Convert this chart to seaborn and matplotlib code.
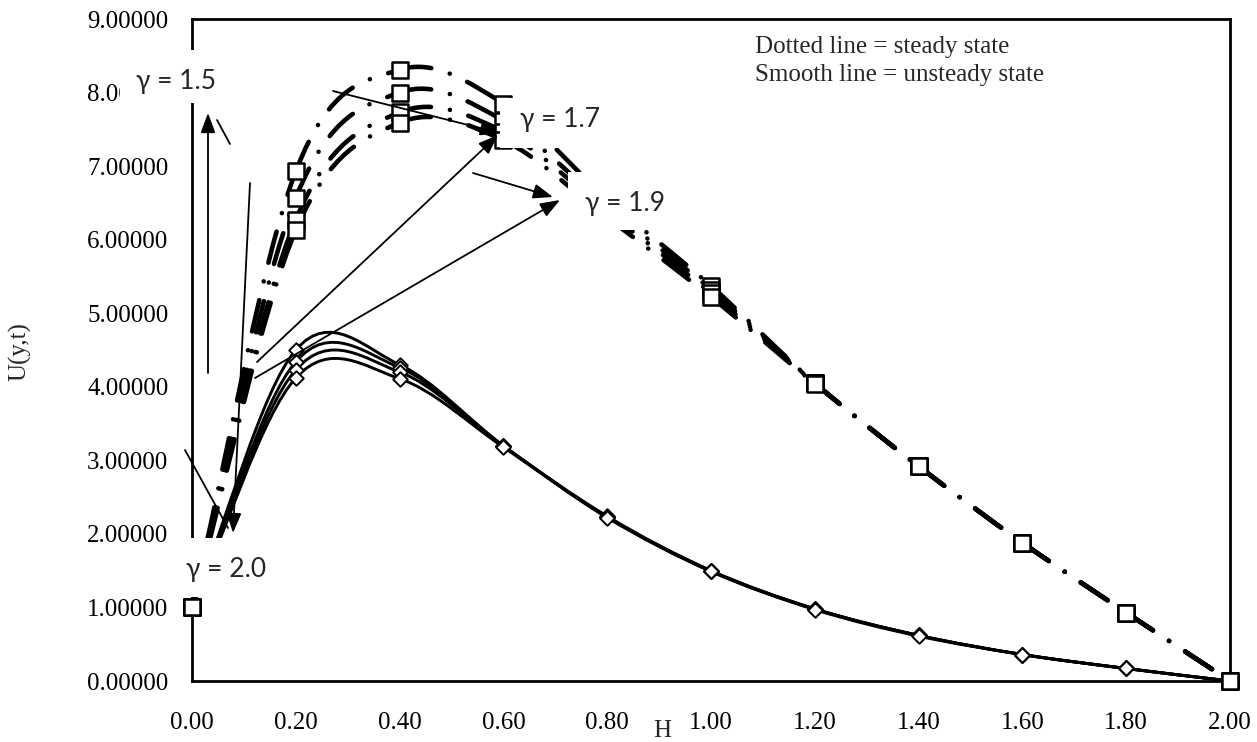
import numpy as np
import pandas as pd
import matplotlib
matplotlib.use("Agg")
import matplotlib.pyplot as plt
import seaborn as sns
from matplotlib.path import Path
from matplotlib.patches import PathPatch, Rectangle

# ---------------- data ----------------
H = [0.0, 0.2, 0.4, 0.6, 0.8, 1.0, 1.2, 1.4, 1.6, 1.8, 2.0]

steady_a = [1.00, 6.93, 8.31, 7.85, 6.55, 5.37, 4.05, 2.92, 1.88, 0.93, 0.00]
steady_b = [1.00, 6.57, 8.00, 7.62, 6.45, 5.32, 4.05, 2.92, 1.88, 0.93, 0.00]
steady_c = [1.00, 6.27, 7.73, 7.47, 6.38, 5.27, 4.05, 2.92, 1.88, 0.93, 0.00]
steady_d = [1.00, 6.13, 7.59, 7.35, 6.30, 5.22, 4.04, 2.92, 1.88, 0.93, 0.00]

unsteady_a = [1.00, 4.50, 4.30, 3.20, 2.24, 1.50, 0.98, 0.62, 0.36, 0.17, 0.00]
unsteady_b = [1.00, 4.34, 4.26, 3.19, 2.23, 1.50, 0.98, 0.62, 0.36, 0.17, 0.00]
unsteady_c = [1.00, 4.23, 4.20, 3.19, 2.23, 1.49, 0.98, 0.62, 0.36, 0.17, 0.00]
unsteady_d = [1.00, 4.12, 4.11, 3.18, 2.22, 1.49, 0.97, 0.61, 0.36, 0.17, 0.00]

steady = {"a": steady_a, "b": steady_b, "c": steady_c, "d": steady_d}
unsteady = {"a": unsteady_a, "b": unsteady_b, "c": unsteady_c, "d": unsteady_d}

x_ticks = [0.0, 0.2, 0.4, 0.6, 0.8, 1.0, 1.2, 1.4, 1.6, 1.8, 2.0]
y_ticks = [0, 1, 2, 3, 4, 5, 6, 7, 8, 9]

gamma_labels = ["γ = 1.5", "γ = 1.7", "γ = 1.9", "γ = 2.0"]
note_lines = ["Dotted line = steady state", "Smooth line = unsteady state"]

# ---------------- style ----------------
sns.set_theme(style="white")
plt.rcParams["font.family"] = ["Liberation Serif", "DejaVu Serif"]

W, Hh = 1257, 742
fig = plt.figure(figsize=(W / 100, Hh / 100), dpi=100)
L, R, T, B = 192, 1230, 19, 681
ax = fig.add_axes([L / W, (Hh - B) / Hh, (R - L) / W, (B - T) / Hh])
ax.set_facecolor("white")


def px2ax(px, py):
    return (px - L) / (R - L), (B - py) / (B - T)


def px2data(px, py):
    return (px - L) / (R - L) * 2.0, (B - py) / (B - T) * 9.0


def bezier_segments(xs, ys):
    """Excel-style smoothed line: one cubic Bezier per pair of points."""
    P = np.column_stack([xs, ys]).astype(float)
    ext = np.vstack([2 * P[0] - P[1], P, 2 * P[-1] - P[-2]])
    segs = []
    for i in range(len(P) - 1):
        pp, p0, p1, pn = ext[i], ext[i + 1], ext[i + 2], ext[i + 3]
        c1 = p0 + (p1 - pp) / 6.0
        c2 = p1 - (pn - p0) / 6.0
        segs.append(([p0, c1, c2, p1],
                     [Path.MOVETO, Path.CURVE4, Path.CURVE4, Path.CURVE4]))
    return segs


def smooth_path(xs, ys):
    verts, codes = [], []
    for k, (v, c) in enumerate(bezier_segments(xs, ys)):
        if k == 0:
            verts += v
            codes += c
        else:
            verts += v[1:]
            codes += c[1:]
    return Path(verts, codes)


# smooth lines (unsteady)
for key, vals in unsteady.items():
    ax.add_patch(PathPatch(smooth_path(H, vals), fill=False, edgecolor="black",
                           lw=2.1, zorder=3))

# dash-dot lines (steady) - pattern restarts on each segment like Excel
for key, vals in steady.items():
    for v, c in bezier_segments(H, vals):
        patch = PathPatch(Path(v, c), fill=False, edgecolor="black", lw=3.3,
                          linestyle=(0, (7, 4.2, 0.01, 4.2)), zorder=3)
        patch.set_capstyle("round")
        ax.add_patch(patch)

# markers through seaborn
df_s = pd.DataFrame([(h, v, k) for k, vals in steady.items() for h, v in zip(H, vals)],
                    columns=["H", "U", "series"])
df_u = pd.DataFrame([(h, v, k) for k, vals in unsteady.items() for h, v in zip(H, vals)],
                    columns=["H", "U", "series"])
sns.scatterplot(data=df_u, x="H", y="U", marker="D", s=55, color="white",
                edgecolor="black", linewidth=1.4, zorder=5, ax=ax, legend=False)
sns.scatterplot(data=df_s, x="H", y="U", marker="s", s=140, color="white",
                edgecolor="black", linewidth=1.8, zorder=6, ax=ax, legend=False)
for coll in ax.collections:
    coll.set_clip_on(False)

# axes
ax.set_xlim(0, 2)
ax.set_ylim(0, 9)
ax.set_xticks(x_ticks)
ax.set_xticklabels([f"{t:.2f}" for t in x_ticks])
ax.set_yticks(y_ticks)
ax.set_yticklabels([f"{t:.5f}" for t in y_ticks])
ax.tick_params(axis="both", direction="out", length=7, width=1, color="#808080",
               labelsize=18, labelcolor="black")
ax.tick_params(axis="x", pad=15)
ax.tick_params(axis="y", pad=10)
for sp in ax.spines.values():
    sp.set_color("black")
    sp.set_linewidth(2)
ax.grid(False)
ax.set_xlabel("")
ax.set_ylabel("")

ax.text(*px2ax(662, 731), "H", transform=ax.transAxes, ha="center", va="center",
        fontsize=18, clip_on=False)
ax.text(*px2ax(20, 352), "U(y,t)", transform=ax.transAxes, ha="center", va="center",
        rotation=90, fontsize=18, clip_on=False)

# note text
ax.text(*px2ax(755, 47), note_lines[0], transform=ax.transAxes, ha="left",
        va="center", fontsize=18, zorder=12)
ax.text(*px2ax(755, 75), note_lines[1], transform=ax.transAxes, ha="left",
        va="center", fontsize=18, zorder=12)

# arrows
aprops_head = dict(arrowstyle="-|>,head_length=1.2,head_width=0.45", color="black",
                   lw=1.3, shrinkA=0, shrinkB=0, mutation_scale=10)
aprops_line = dict(arrowstyle="-", color="black", lw=1.3, shrinkA=0, shrinkB=0)
arrows = [
    ((208, 373), (208, 113), True),
    ((230, 144), (217, 120), False),
    ((250, 183), (233, 533), True),
    ((185, 450), (228, 528), False),
    ((333, 91), (500, 133), True),
    ((257, 362), (498, 135), True),
    ((255, 378), (560, 200), True),
    ((473, 173), (553, 197), True),
]
for tail, head, has_head in arrows:
    ax.annotate("", xy=px2data(*head), xytext=px2data(*tail), xycoords="data",
                textcoords="data", annotation_clip=False,
                arrowprops=aprops_head if has_head else aprops_line, zorder=8)

# white label boxes with gamma labels
boxes = [
    ((120, 50, 245, 103), (176, 81)),
    ((500, 98, 620, 148), (560, 120)),
    ((568, 172, 700, 230), (625, 204)),
    ((187, 538, 270, 597), (226, 570)),
]
for (x0, y0, x1, y1), (tx, ty) in boxes:
    ax0, ay0 = px2ax(x0, y1)
    ax1, ay1 = px2ax(x1, y0)
    ax.add_patch(Rectangle((ax0, ay0), ax1 - ax0, ay1 - ay0, transform=ax.transAxes,
                           facecolor="white", edgecolor="none", zorder=10, clip_on=False))
for ((x0, y0, x1, y1), (tx, ty)), lab in zip(boxes, gamma_labels):
    ax.text(*px2ax(tx, ty), lab, transform=ax.transAxes, ha="center", va="center",
            fontsize=19, family=["Lato", "DejaVu Sans"], zorder=11, clip_on=False)

fig.savefig("out.png", dpi=100)
